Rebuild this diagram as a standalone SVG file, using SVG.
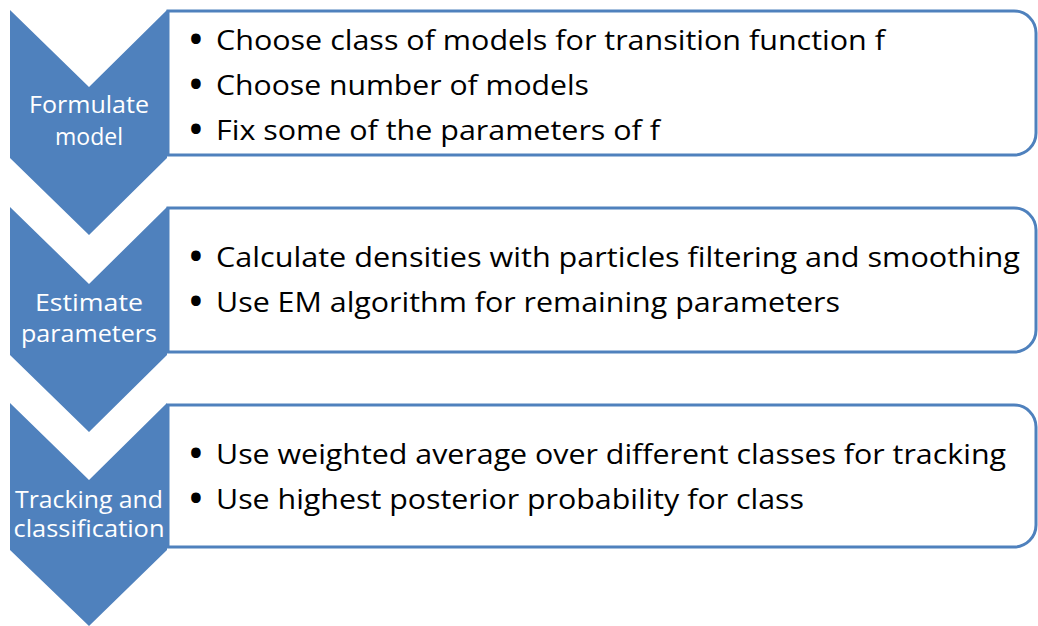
<svg xmlns="http://www.w3.org/2000/svg" width="1038" height="626" viewBox="0 0 1038 626">
<style>
.chev{fill:#4f81bd}
.box{fill:#fff;stroke:#4f81bd;stroke-width:3}
.lab{font-family:"Open Sans","Liberation Sans",sans-serif;font-size:23px;fill:#fff;text-anchor:middle}
.txt{font-family:"Open Sans","Liberation Sans",sans-serif;font-size:27px;fill:#000}
.bul{font-family:"Open Sans","Liberation Sans",sans-serif;font-size:34px;font-weight:bold;fill:#000;text-anchor:middle}
</style>
<rect width="1038" height="626" fill="#fff"/>
<g id="step1">
<path class="box" d="M168,11 H1014 A22,22 0 0 1 1036,33 V133 A22,22 0 0 1 1014,155 H168 Z"/>
<polygon class="chev" points="10,10 89,87 167,10 167,158 89,235 10,158"/>
<text class="lab" x="89" y="113" textLength="120" lengthAdjust="spacingAndGlyphs">Formulate</text>
<text class="lab" x="89" y="145">model</text>
<text class="bul" x="196" y="51">•</text>
<text class="txt" x="216" y="50" textLength="669" lengthAdjust="spacingAndGlyphs">Choose class of models for transition function f</text>
<text class="bul" x="196" y="96">•</text>
<text class="txt" x="216" y="95" textLength="373" lengthAdjust="spacingAndGlyphs">Choose number of models</text>
<text class="bul" x="196" y="141">•</text>
<text class="txt" x="216" y="140" textLength="444" lengthAdjust="spacingAndGlyphs">Fix some of the parameters of f</text>
</g>
<g id="step2">
<path class="box" d="M168,208 H1014 A22,22 0 0 1 1036,230 V330 A22,22 0 0 1 1014,352 H168 Z"/>
<polygon class="chev" points="10,207 89,284 167,207 167,355 89,432 10,355"/>
<text class="lab" x="89" y="311" textLength="108" lengthAdjust="spacingAndGlyphs">Estimate</text>
<text class="lab" x="89" y="342" textLength="136" lengthAdjust="spacingAndGlyphs">parameters</text>
<text class="bul" x="196" y="268">•</text>
<text class="txt" x="216" y="267" textLength="804" lengthAdjust="spacingAndGlyphs">Calculate densities with particles filtering and smoothing</text>
<text class="bul" x="196" y="313">•</text>
<text class="txt" x="216" y="312" textLength="624" lengthAdjust="spacingAndGlyphs">Use EM algorithm for remaining parameters</text>
</g>
<g id="step3">
<path class="box" d="M168,405 H1014 A22,22 0 0 1 1036,427 V525 A22,22 0 0 1 1014,547 H168 Z"/>
<polygon class="chev" points="10,403 89,480 167,403 167,550 89,626 10,550"/>
<text class="lab" x="89" y="508" textLength="148" lengthAdjust="spacingAndGlyphs">Tracking and</text>
<text class="lab" x="89" y="537" textLength="151" lengthAdjust="spacingAndGlyphs">classification</text>
<text class="bul" x="196" y="465">•</text>
<text class="txt" x="216" y="464" textLength="790" lengthAdjust="spacingAndGlyphs">Use weighted average over different classes for tracking</text>
<text class="bul" x="196" y="510">•</text>
<text class="txt" x="216" y="509" textLength="588" lengthAdjust="spacingAndGlyphs">Use highest posterior probability for class</text>
</g>
<g id="connectors"/>
</svg>
